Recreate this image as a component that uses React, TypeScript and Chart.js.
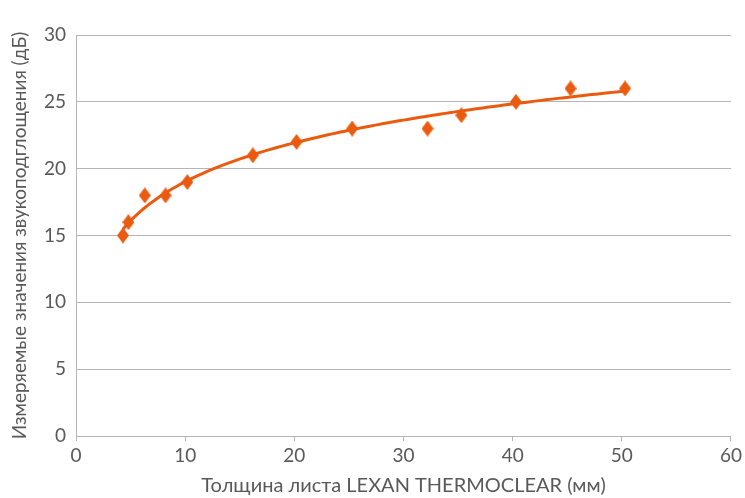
import React, { useEffect, useRef } from "react";
import { Chart, registerables } from "chart.js";

Chart.register(...registerables);

const thickness = [4.3, 4.8, 6.3, 8.2, 10.2, 16.2, 20.2, 25.3, 32.2, 35.3, 40.3, 45.3, 50.3];
const absorption = [15, 16, 18, 18, 19, 21, 22, 23, 23, 24, 25, 26, 26];
const xTitle = "Толщина листа LEXAN THERMOCLEAR (мм)";
const yTitle = "Измеряемые значения звукоподглощения (дБ)";

const ORANGE = "#EA5B10";
const GRID = "#B5B5B5";
const TEXT = "#595959";
const FONT = "Lato, 'Open Sans', sans-serif";

// Logarithmic least-squares trendline fitted to the measured points (as in the source chart)
function logFit(xs: number[], ys: number[]) {
  const n = xs.length;
  const lx = xs.map((x) => Math.log(x));
  const mx = lx.reduce((a, b) => a + b, 0) / n;
  const my = ys.reduce((a, b) => a + b, 0) / n;
  let sxy = 0, sxx = 0;
  for (let i = 0; i < n; i++) {
    sxy += (lx[i] - mx) * (ys[i] - my);
    sxx += (lx[i] - mx) * (lx[i] - mx);
  }
  const b = sxy / sxx;
  const a = my - b * mx;
  return (x: number) => a + b * Math.log(x);
}

function diamond(): HTMLCanvasElement {
  const c = document.createElement("canvas");
  const w = 12, h = 16;
  c.width = w;
  c.height = h;
  const ctx = c.getContext("2d")!;
  ctx.fillStyle = ORANGE;
  ctx.beginPath();
  ctx.moveTo(w / 2, 0);
  ctx.lineTo(w, h / 2);
  ctx.lineTo(w / 2, h);
  ctx.lineTo(0, h / 2);
  ctx.closePath();
  ctx.fill();
  return c;
}

export default function App() {
  const ref = useRef<HTMLCanvasElement | null>(null);

  useEffect(() => {
    if (!ref.current) return;
    const f = logFit(thickness, absorption);
    const xMin = thickness[0];
    const xMax = thickness[thickness.length - 1];
    const trend: { x: number; y: number }[] = [];
    const steps = 120;
    for (let i = 0; i <= steps; i++) {
      const x = xMin + ((xMax - xMin) * i) / steps;
      trend.push({ x, y: f(x) });
    }
    const pts = thickness.map((x, i) => ({ x, y: absorption[i] }));
    const marker = diamond();

    const chart = new Chart(ref.current, {
      type: "scatter",
      data: {
        datasets: [
          {
            label: "trend",
            data: trend,
            showLine: true,
            borderColor: ORANGE,
            borderWidth: 3,
            pointRadius: 0,
            tension: 0,
            order: 2,
          },
          {
            label: "data",
            data: pts,
            pointStyle: marker as any,
            pointRadius: 7,
            backgroundColor: ORANGE,
            borderColor: ORANGE,
            order: 1,
          },
        ],
      },
      options: {
        animation: false,
        responsive: false,
        layout: { padding: { top: 35, right: 12, left: 0, bottom: 0 } },
        plugins: { legend: { display: false }, tooltip: { enabled: false } },
        scales: {
          x: {
            type: "linear",
            min: 0,
            max: 60,
            ticks: { stepSize: 10, color: TEXT, font: { family: FONT, size: 19 }, padding: 3 },
            grid: { drawOnChartArea: false, drawTicks: true, tickLength: 5, color: GRID },
            border: { display: true, color: GRID, width: 1 },
            title: {
              display: true,
              text: xTitle,
              color: TEXT,
              font: { family: FONT, size: 20 },
              padding: { top: 0, bottom: 0 },
            },
            afterFit: (s: any) => {
              s.height = 62;
            },
          },
          y: {
            min: 0,
            max: 30,
            ticks: { stepSize: 5, color: TEXT, font: { family: FONT, size: 19 }, padding: 10 },
            grid: { drawTicks: false, color: GRID },
            border: { display: true, color: GRID, width: 1 },
            title: {
              display: true,
              text: yTitle,
              color: TEXT,
              font: { family: FONT, size: 19 },
              padding: { top: 8, bottom: 0 },
            },
            afterFit: (s: any) => {
              s.width = 76;
            },
          },
        },
      },
    });
    return () => chart.destroy();
  }, []);

  return (
    <div style={{ position: "fixed", left: 0, top: 0, width: 745, height: 498, background: "#fff" }}>
      <canvas ref={ref} width={745} height={498} style={{ width: 745, height: 498, display: "block" }} />
    </div>
  );
}
